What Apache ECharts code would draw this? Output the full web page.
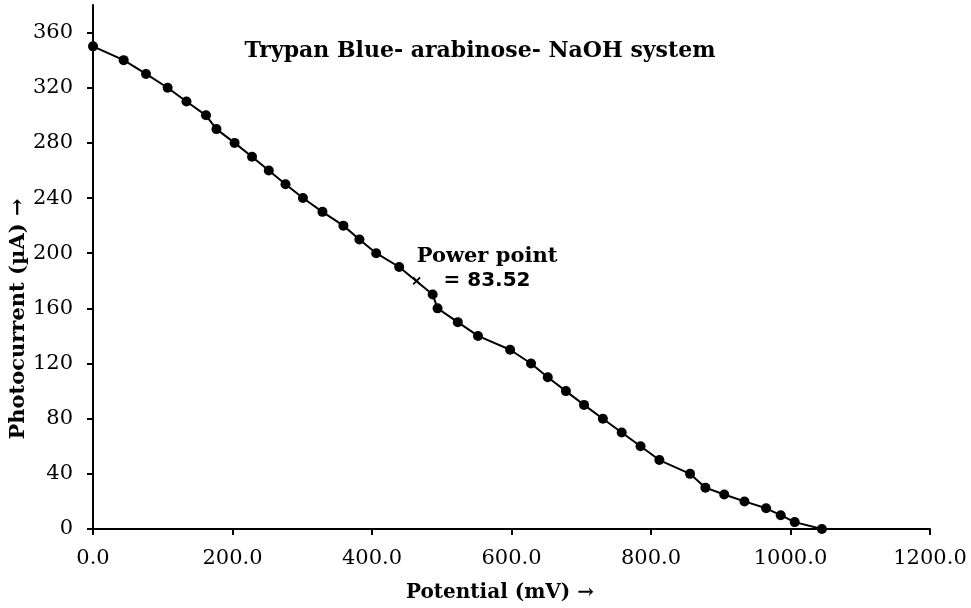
<!DOCTYPE html>
<html>
<head>
<meta charset="utf-8">
<script src="https://cdn.jsdelivr.net/npm/echarts@6/dist/echarts.min.js"></script>
<style>
  html, body { margin: 0; padding: 0; background: #fff; }
  #chart { width: 971px; height: 608px; }
</style>
</head>
<body>
<div id="chart"></div>
<script>
// potential (mV) and photocurrent (µA)
const potential = [0, 44, 76, 107, 134, 162, 177, 203, 228, 252, 276, 301, 329, 359, 382, 406, 439,
  487, 494, 523, 552, 598, 628, 652, 678, 704, 731, 758, 785, 812, 856, 878, 905, 934, 965, 986, 1006, 1045];
const photocurrent = [350, 340, 330, 320, 310, 300, 290, 280, 270, 260, 250, 240, 230, 220, 210, 200, 190,
  170, 160, 150, 140, 130, 120, 110, 100, 90, 80, 70, 60, 50, 40, 30, 25, 20, 15, 10, 5, 0];
const powerPoint = [464, 180];
const yTicks = [0, 40, 80, 120, 160, 200, 240, 280, 320, 360];

const FONT = '"DejaVu Serif", serif';
const chart = echarts.init(document.getElementById('chart'));

chart.setOption({
  animation: false,
  grid: { left: 93, right: 41, top: 5, bottom: 79 },
  xAxis: {
    type: 'value',
    min: 0,
    max: 1200,
    interval: 200,
    splitLine: { show: false },
    axisLine: { lineStyle: { color: '#000', width: 2 } },
    axisTick: { show: true, length: 6, lineStyle: { color: '#000', width: 2 } },
    axisLabel: {
      color: '#000', fontFamily: FONT, fontSize: 21, margin: 19,
      formatter: v => v.toFixed(1)
    }
  },
  yAxis: {
    type: 'value',
    min: 0,
    max: 380,
    splitLine: { show: false },
    axisLine: { show: true, lineStyle: { color: '#000', width: 2 } },
    axisTick: { show: true, length: 6, customValues: yTicks, lineStyle: { color: '#000', width: 2 } },
    axisLabel: { color: '#000', fontFamily: FONT, fontSize: 21, margin: 20, customValues: yTicks }
  },
  graphic: [
    {
      type: 'text', x: 480, y: 51,
      style: {
        text: 'Trypan Blue- arabinose- NaOH system', fill: '#000',
        font: 'bold 22px ' + FONT, align: 'center', verticalAlign: 'middle'
      }
    },
    {
      type: 'text', x: 500, y: 593,
      style: {
        text: 'Potential (mV) \u2192', fill: '#000',
        font: 'bold 20px ' + FONT, align: 'center', verticalAlign: 'middle'
      }
    },
    {
      type: 'text', x: 19, y: 319, rotation: Math.PI / 2,
      style: {
        text: 'Photocurrent (\u00b5A) \u2192', fill: '#000',
        font: 'bold 21px ' + FONT, align: 'center', verticalAlign: 'middle'
      }
    }
  ],
  series: [
    {
      type: 'line',
      data: potential.map((x, i) => [x, photocurrent[i]]),
      symbol: 'circle',
      symbolSize: 10,
      lineStyle: { color: '#000', width: 2 },
      itemStyle: { color: '#000' }
    },
    {
      type: 'scatter',
      data: [powerPoint],
      symbol: 'path://M0,0L10,10M10,0L0,10',
      symbolSize: 7,
      itemStyle: { color: '#000', opacity: 1, borderColor: '#000', borderWidth: 1.8 },
      label: {
        show: true,
        position: 'right',
        distance: 5,
        offset: [61, -12],
        align: 'center',
        formatter: '{a|Power point}\n{b|= 83.52}',
        color: '#000',
        opacity: 1,
        textBorderWidth: 0,
        rich: {
          a: { fontFamily: FONT, fontWeight: 'bold', fontSize: 21, lineHeight: 25, color: '#000' },
          b: { fontFamily: '"DejaVu Sans", sans-serif', fontWeight: 'bold', fontSize: 20, lineHeight: 25, color: '#000' }
        }
      }
    }
  ]
});
</script>
</body>
</html>
